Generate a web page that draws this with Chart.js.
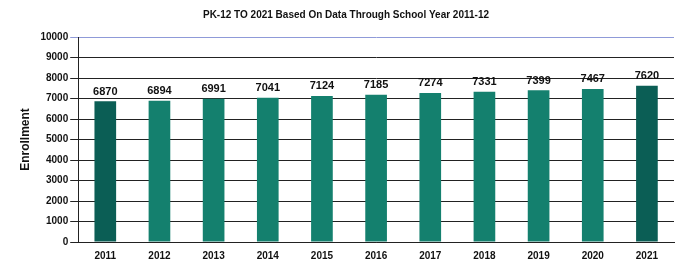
<!DOCTYPE html>
<html>
<head>
<meta charset="utf-8">
<script src="https://cdn.jsdelivr.net/npm/chart.js@4"></script>
<style>
  html, body { margin: 0; padding: 0; background: #fff; }
  #wrap { width: 678px; height: 262px; }
</style>
</head>
<body>
<div id="wrap"><canvas id="enrollChart"></canvas></div>
<script>
// Data
const years = ['2011', '2012', '2013', '2014', '2015', '2016', '2017', '2018', '2019', '2020', '2021'];
const enrollment = [6870, 6894, 6991, 7041, 7124, 7185, 7274, 7331, 7399, 7467, 7620];
const yTicks = [0, 1000, 2000, 3000, 4000, 5000, 6000, 7000, 8000, 9000, 10000];

const barColors = years.map((y, i) => (i === 0 || i === years.length - 1) ? '#0b5e55' : '#14806e');

// Draws the value above each bar
const valueLabels = {
  id: 'valueLabels',
  afterDatasetsDraw(chart) {
    const ctx = chart.ctx;
    const meta = chart.getDatasetMeta(0);
    ctx.save();
    ctx.font = 'bold 11px "Liberation Sans", Arial, sans-serif';
    ctx.fillStyle = '#111';
    ctx.textAlign = 'center';
    ctx.textBaseline = 'bottom';
    meta.data.forEach((bar, i) => {
      ctx.fillText(String(chart.data.datasets[0].data[i]), bar.x, bar.y - 4);
    });
    ctx.restore();
  }
};

new Chart(document.getElementById('enrollChart'), {
  type: 'bar',
  data: {
    labels: years,
    datasets: [{
      label: 'Enrollment',
      data: enrollment,
      backgroundColor: barColors,
      borderWidth: 0,
      categoryPercentage: 1,
      barPercentage: 0.4
    }]
  },
  options: {
    responsive: true,
    maintainAspectRatio: false,
    animation: false,
    layout: { padding: { left: 18, right: 4, top: 0, bottom: 0 } },
    plugins: {
      legend: { display: false },
      tooltip: { enabled: false },
      title: {
        display: true,
        text: 'PK-12 TO 2021 Based On Data Through School Year 2011-12',
        color: '#111',
        font: { family: '"Liberation Sans", Arial, sans-serif', size: 10, weight: 'bold' },
        padding: { top: 9, bottom: 16 }
      }
    },
    scales: {
      x: {
        grid: { display: false },
        border: { color: '#222', width: 1 },
        ticks: {
          color: '#111',
          font: { family: '"Liberation Sans", Arial, sans-serif', size: 10, weight: 'bold' },
          padding: 0,
          maxRotation: 0
        }
      },
      y: {
        min: 0,
        max: 10000,
        afterBuildTicks(axis) { axis.ticks = yTicks.map(v => ({ value: v })); },
        grid: {
          color: ctx => (ctx.tick && ctx.tick.value === 10000) ? '#8f9ad8' : '#222',
          lineWidth: 1,
          tickLength: 8
        },
        border: { color: '#222', width: 1 },
        ticks: {
          color: '#111',
          font: { family: '"Liberation Sans", Arial, sans-serif', size: 10, weight: 'bold' },
          padding: 2,
          callback: v => String(v)
        },
        title: {
          display: true,
          text: 'Enrollment',
          color: '#111',
          font: { family: '"Liberation Sans", Arial, sans-serif', size: 12, weight: 'bold' },
          padding: { top: 0, bottom: 6 }
        }
      }
    }
  },
  plugins: [valueLabels]
});
</script>
</body>
</html>
